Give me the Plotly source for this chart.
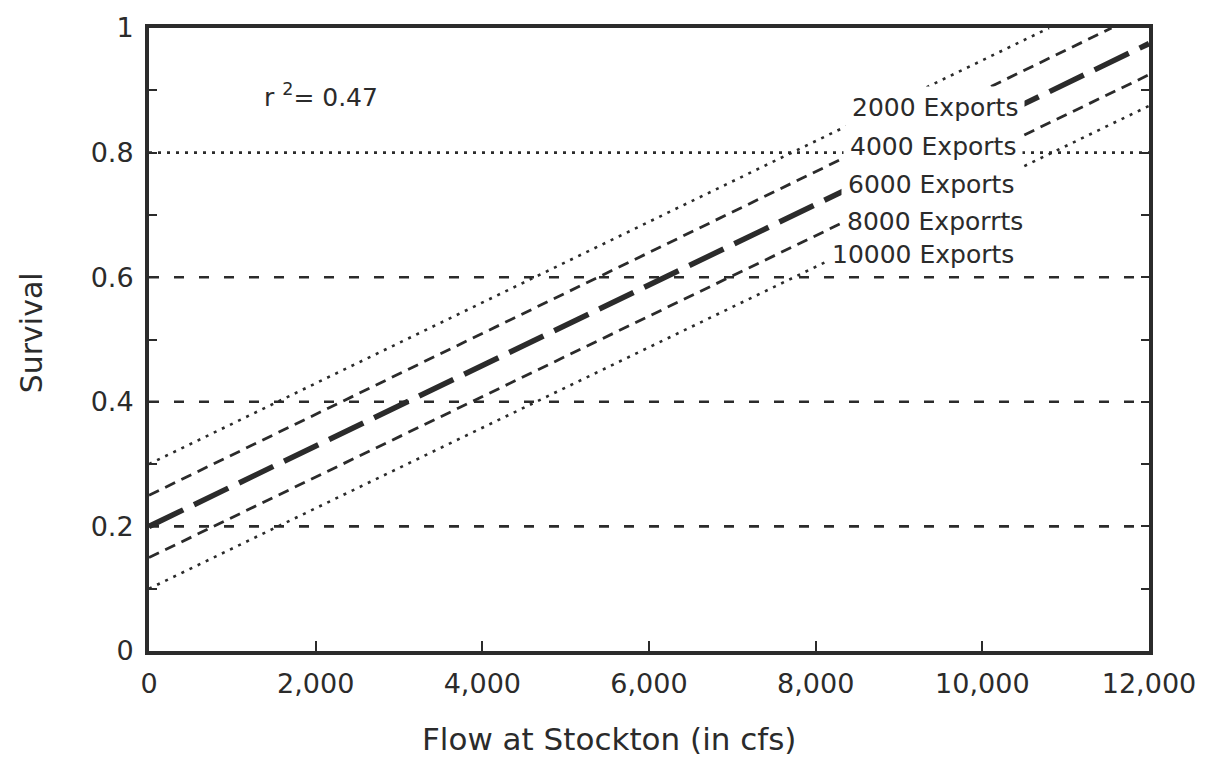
import plotly.graph_objects as go

# ---- data ----
flow_ticks = [0, 2000, 4000, 6000, 8000, 10000, 12000]
survival_ticks = [0, 0.2, 0.4, 0.6, 0.8, 1.0]

series_names = ["2000 Exports", "4000 Exports", "6000 Exports", "8000 Exporrts", "10000 Exports"]
flow_2000 = [0, 10800]
surv_2000 = [0.30, 1.00]
flow_4000 = [0, 11550]
surv_4000 = [0.25, 1.00]
flow_6000 = [0, 12000]
surv_6000 = [0.20, 0.975]
flow_8000 = [0, 12000]
surv_8000 = [0.15, 0.925]
flow_10000 = [0, 12000]
surv_10000 = [0.10, 0.875]

grid_levels = [0.2, 0.4, 0.6, 0.8]
grid_flow = [0, 12000]
r_squared = "0.47"
x_title = "Flow at Stockton (in cfs)"
y_title = "Survival"

# ---- styles ----
INK = "#2b2b2b"
FONT = "DejaVu Sans"
series_x = [flow_2000, flow_4000, flow_6000, flow_8000, flow_10000]
series_y = [surv_2000, surv_4000, surv_6000, surv_8000, surv_10000]
series_dash = ["3px,6px", "11px,7px", "38px,12px", "11px,7px", "3px,6px"]
series_width = [2.6, 2.8, 5.5, 2.8, 2.6]
grid_dash = ["10px,15px", "10px,15px", "10px,15px", "3px,6px"]

fig = go.Figure()

for lvl, d in zip(grid_levels, grid_dash):
    fig.add_trace(go.Scatter(x=grid_flow, y=[lvl, lvl], mode="lines",
                             line=dict(color=INK, width=2.6, dash=d),
                             hoverinfo="skip", showlegend=False))

for name, xs, ys, d, w in zip(series_names, series_x, series_y, series_dash, series_width):
    fig.add_trace(go.Scatter(x=xs, y=ys, mode="lines", name=name,
                             line=dict(color=INK, width=w, dash=d),
                             showlegend=False))

# labels with white boxes (interrupt the lines as in the original)
label_pos = [(8350, 0.873), (8325, 0.809), (8300, 0.749), (8290, 0.690), (8150, 0.636)]
label_pad = [6, 6, 6, 6, 3]
for name, (lx, ly), pad in zip(series_names, label_pos, label_pad):
    fig.add_annotation(x=lx, y=ly, text=name, showarrow=False,
                       xanchor="left", yanchor="middle",
                       font=dict(family=FONT, size=25, color=INK),
                       bgcolor="white", borderpad=pad)

fig.add_annotation(x=1350, y=0.891, text="r <sup>2</sup>= " + r_squared, showarrow=False,
                   xanchor="left", yanchor="middle",
                   font=dict(family=FONT, size=25, color=INK))

# axis titles (placed as in the original, x title is off-centre)
fig.add_annotation(xref="paper", yref="paper", x=0.46, y=-0.141, text=x_title,
                   showarrow=False, xanchor="center", yanchor="middle",
                   font=dict(family=FONT, size=31, color=INK))
fig.add_annotation(xref="paper", yref="paper", x=-0.118, y=0.51, text=y_title,
                   showarrow=False, xanchor="center", yanchor="middle", textangle=-90,
                   font=dict(family=FONT, size=30, color=INK))

fig.update_layout(
    width=1206, height=761,
    margin=dict(l=141, r=65, t=20, b=118, autoexpand=False),
    paper_bgcolor="white", plot_bgcolor="white",
    font=dict(family=FONT, color=INK),
)

fig.update_xaxes(
    range=[0, 12000], tickvals=flow_ticks, tickformat=",d",
    showgrid=False, zeroline=False, automargin=False,
    showline=True, linewidth=4, linecolor=INK, mirror=True,
    ticks="inside", ticklen=10, tickwidth=2, tickcolor=INK,
    ticklabelstandoff=6,
    tickfont=dict(family=FONT, size=27, color=INK),
)
fig.update_yaxes(
    range=[0, 1], tickvals=survival_ticks,
    showgrid=False, zeroline=False, automargin=False,
    showline=True, linewidth=4, linecolor=INK, mirror="ticks",
    ticks="inside", ticklen=8, tickwidth=2, tickcolor=INK,
    minor=dict(dtick=0.1, ticks="inside", ticklen=8, tickwidth=2, tickcolor=INK),
    ticklabelstandoff=6,
    tickfont=dict(family=FONT, size=27, color=INK),
)

fig.write_html("out.html")
